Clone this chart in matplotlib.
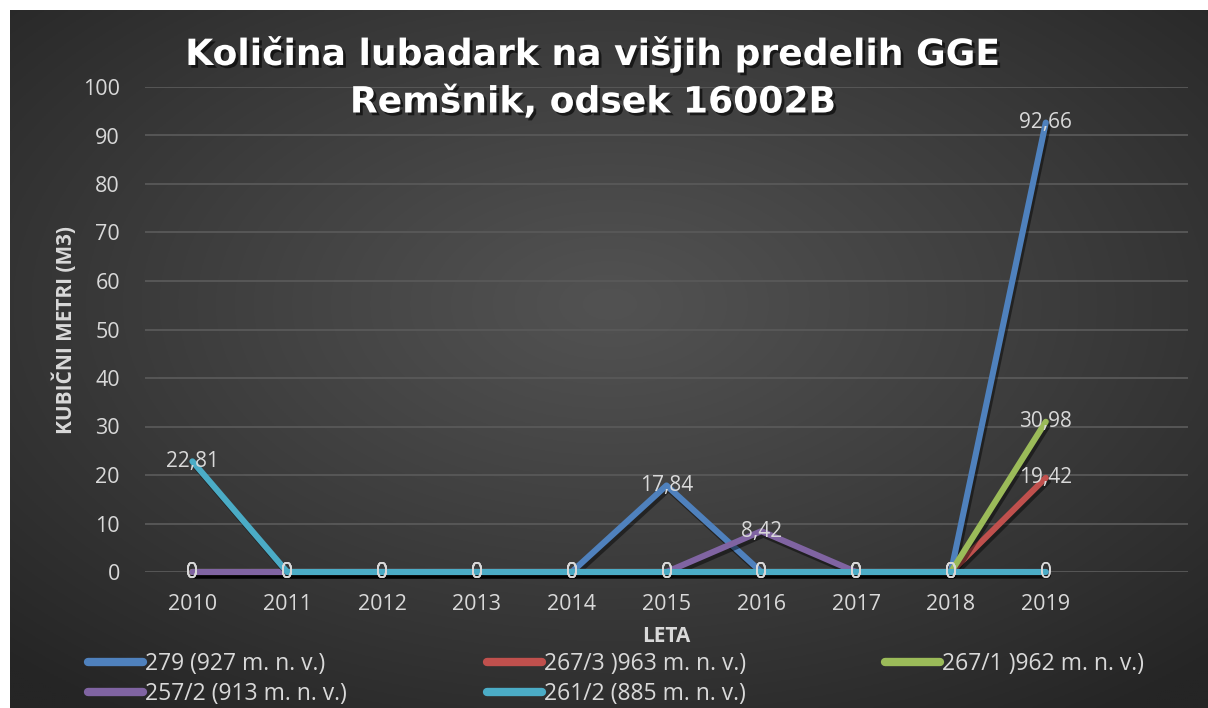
import numpy as np
import matplotlib
matplotlib.use("Agg")
import matplotlib.pyplot as plt
import matplotlib.patheffects as pe

# ---- data ----
years = ["2010", "2011", "2012", "2013", "2014", "2015", "2016", "2017", "2018", "2019"]
s_279 = [0, 0, 0, 0, 0, 17.84, 0, 0, 0, 92.66]
s_267_3 = [0, 0, 0, 0, 0, 0, 0, 0, 0, 19.42]
s_267_1 = [0, 0, 0, 0, 0, 0, 0, 0, 0, 30.98]
s_257_2 = [0, 0, 0, 0, 0, 0, 8.42, 0, 0, 0]
s_261_2 = [22.81, 0, 0, 0, 0, 0, 0, 0, 0, 0]
series_names = ["279 (927 m. n. v.)", "267/3 )963 m. n. v.)", "267/1 )962 m. n. v.)",
                "257/2 (913 m. n. v.)", "261/2 (885 m. n. v.)"]
series_vals = [s_279, s_267_3, s_267_1, s_257_2, s_261_2]
series_colors = ["#4f81bd", "#c0504d", "#9bbb59", "#8064a2", "#4bacc6"]
yticks = [0, 10, 20, 30, 40, 50, 60, 70, 80, 90, 100]
title = "Količina lubadark na višjih predelih GGE\nRemšnik, odsek 16002B"
ylabel = "KUBIČNI METRI (M3)"
xlabel = "LETA"

FONT = "Open Sans"
TXT = "#d9d9d9"

W, H = 1208, 708
fig = plt.figure(figsize=(W / 100, H / 100), dpi=100)
fig.patch.set_facecolor("white")

# background with radial gradient (chart area starts ~10px from top/left)
bg = fig.add_axes([10 / W, 0, 1 - 10 / W, 1 - 10 / H])
bg.set_axis_off()
ny, nx = 350, 600
yy, xx = np.mgrid[0:ny, 0:nx]
cx, cy = nx * 0.5, ny * 0.42
r = np.sqrt(((xx - cx) / nx) ** 2 + ((yy - cy) / ny) ** 2) / 0.72
r = np.clip(r, 0, 1)
c0, c1 = 0x52 / 255, 0x25 / 255
img = c0 + (c1 - c0) * r ** 1.1
bg.imshow(np.dstack([img, img, img]), aspect="auto", extent=[0, 1, 0, 1], origin="upper")
bg.set_xlim(0, 1)
bg.set_ylim(0, 1)

ax = fig.add_axes([145 / W, (H - 572) / H, (1188 - 145) / W, (572 - 87) / H])
ax.set_facecolor("none")
x = np.arange(len(years))
shadow = [pe.SimpleLineShadow(offset=(1.5, -2.5), shadow_color="black", alpha=0.45), pe.Normal()]
handles = []
for name, vals, col in zip(series_names, series_vals, series_colors):
    ln, = ax.plot(x, vals, color=col, lw=4.4, solid_capstyle="round", solid_joinstyle="round",
                  label=name, path_effects=shadow, zorder=3, clip_on=False)
    handles.append(ln)
for vals in series_vals:
    for xi, v in zip(x, vals):
        s = ("%.2f" % v).replace(".", ",") if v != 0 else "0"
        ax.text(xi, v, s, ha="center", va="center", color=TXT, fontsize=15,
                family=FONT, zorder=5, clip_on=False)

ax.set_xlim(-0.5, 10.5)
ax.set_ylim(0, 100)
ax.set_yticks(yticks)
ax.set_xticks(x)
ax.set_xticklabels(years)
ax.grid(axis="y", color="#595959", lw=1.3)
ax.set_axisbelow(True)
for sp in ax.spines.values():
    sp.set_visible(False)
ax.tick_params(length=0, colors=TXT, labelsize=15.5)
ax.tick_params(axis="y", pad=18)
ax.tick_params(axis="x", pad=16)
for lab in ax.get_xticklabels() + ax.get_yticklabels():
    lab.set_family(FONT)

fig.text(65 / W, 1 - 330 / H, ylabel, rotation=90, ha="center", va="center",
         color=TXT, fontsize=15, fontweight="bold", family=FONT)
fig.text(666 / W, 1 - 637 / H, xlabel, ha="center", va="center",
         color=TXT, fontsize=15, fontweight="bold", family=FONT)

fig.text(593 / W, 1 - 78 / H, title, ha="center", va="center", color="white",
         fontsize=26, fontweight="bold", family="DejaVu Sans", linespacing=1.5,
         path_effects=[pe.withSimplePatchShadow(offset=(2, -2), shadow_rgbFace="black", alpha=0.6)])

# legend: three columns placed like the original
cols = [([0, 3], 88), ([1, 4], 487), ([2], 885)]
for idx, xpx in cols:
    leg = fig.legend([handles[i] for i in idx], [series_names[i] for i in idx],
                     loc="upper left", bbox_to_anchor=(xpx / W, 1 - 652 / H),
                     frameon=False, handlelength=2.4, handletextpad=0.1,
                     labelspacing=0.25, borderaxespad=0, borderpad=0,
                     prop={"family": FONT, "size": 16.5}, labelcolor=TXT)
    for lh in leg.get_lines():
        lh.set_linewidth(6)
        lh.set_path_effects([])

fig.savefig("out.png", dpi=100)
